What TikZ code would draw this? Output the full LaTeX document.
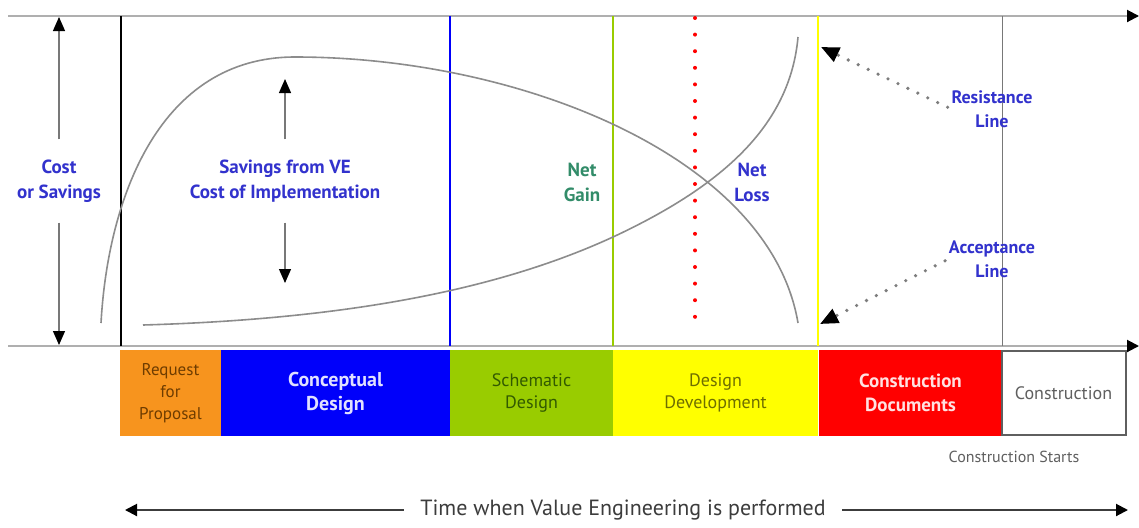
\documentclass[tikz,border=0pt]{standalone}
\usepackage{fontspec}
\setmainfont{PT Sans}
\usetikzlibrary{arrows.meta}
\begin{document}
\begin{tikzpicture}[x=0.5pt,y=0.5pt,
  axisline/.style={draw=axisGray,line width=1pt,-{Triangle[length=6pt,width=6pt,color=black]}},
  stageline/.style={line width=1pt},
  curveline/.style={draw=curveGray,line width=0.8pt},
  headarrow/.style={draw=arrowGray,line width=0.6pt,-{Triangle[length=7pt,width=6pt,color=black]}},
  dotlink/.style={draw=dotGray,line width=1.8pt,line cap=round,dash pattern=on 0pt off 5.5pt,shorten <=2pt,-{Triangle[length=9pt,width=7.5pt,color=black]}},
  bluelabel/.style={text=labelBlue,font=\fontsize{9.5}{12.5}\selectfont\bfseries,align=center,inner sep=0pt},
  phase/.style={inner sep=0pt,outer sep=0pt,minimum height=43pt,align=center,font=\fontsize{9}{11}\selectfont}]
\definecolor{axisGray}{RGB}{175,175,175}
\definecolor{curveGray}{RGB}{140,140,140}
\definecolor{arrowGray}{RGB}{120,120,120}
\definecolor{dotGray}{RGB}{125,125,125}
\definecolor{labelBlue}{RGB}{50,50,205}
\definecolor{gainTeal}{RGB}{50,140,105}
\definecolor{rfpOrange}{RGB}{247,148,30}
\definecolor{rfpText}{RGB}{110,60,0}
\definecolor{conceptBlue}{RGB}{0,0,250}
\definecolor{conceptText}{RGB}{225,225,255}
\definecolor{schemGreen}{RGB}{153,204,0}
\definecolor{schemText}{RGB}{50,90,0}
\definecolor{devYellow}{RGB}{255,255,0}
\definecolor{devText}{RGB}{110,110,0}
\definecolor{docRed}{RGB}{255,0,0}
\definecolor{docText}{RGB}{255,225,225}
\definecolor{buildGray}{RGB}{95,95,95}
\definecolor{timeGray}{RGB}{60,60,60}
\path[use as bounding box,fill=white] (0,0) rectangle (1139,527);

% axes
\coordinate (topL) at (8,511);
\coordinate (topR) at (1139,511);
\coordinate (botL) at (8,181);
\coordinate (botR) at (1139,181);
\path[axisline] (topL) -- (topR);
\path[axisline] (botL) -- (botR);

% stage boundaries
\path[draw=black,stageline] (121,511) -- (121,181);
\path[draw=conceptBlue,stageline] (450,511) -- (450,181);
\path[draw=schemGreen,stageline] (613,511) -- (613,181);
\path[draw=devYellow,stageline] (818,511) -- (818,181);
\path[draw=arrowGray,line width=0.5pt] (1002,511) -- (1002,181);
\path[draw=docRed,line width=2pt,line cap=round,dash pattern=on 0pt off 8.3pt] (695,509) -- (695,194);

% savings and cost curves
\path[curveline] (101,204) .. controls (108,330) and (160,470) .. (295,470)
  .. controls (520,470) and (770,370) .. (798,204);
\path[curveline] (143,202) .. controls (350,208) and (500,238) .. (613,290)
  .. controls (720,340) and (790,400) .. (798,490);

% labels
\node[bluelabel,inner ysep=10pt] (costtxt) at (59,346) {Cost\\or Savings};
\coordinate (costTop) at (59,510);
\coordinate (costBot) at (59,182);
\path[headarrow] (costtxt) -- (costTop);
\path[headarrow] (costtxt) -- (costBot);

\node[bluelabel,inner ysep=10pt] (savtxt) at (285,346) {Savings from VE\\Cost of Implementation};
\coordinate (savTop) at (285,448);
\coordinate (savBot) at (285,244);
\path[headarrow] (savtxt) -- (savTop);
\path[headarrow] (savtxt) -- (savBot);

\node[bluelabel,text=gainTeal] (gaintxt) at (582,345) {Net\\Gain};
\node[bluelabel] (losstxt) at (752,345) {Net\\Loss};

\node[bluelabel,font=\fontsize{9}{12}\selectfont\bfseries] (restxt) at (992,418) {Resistance\\Line};
\node[bluelabel,font=\fontsize{9}{12}\selectfont\bfseries] (acctxt) at (992,268) {Acceptance\\Line};
\coordinate (resHead) at (821,480);
\coordinate (accHead) at (820,203);
\path[dotlink] (restxt.west) -- (resHead);
\path[dotlink] (acctxt.west) -- (accHead);

% project phases
\node[phase,fill=rfpOrange,text=rfpText,minimum width=50.5pt,font=\fontsize{8.5}{11}\selectfont] (rfp) at (170.5,134) {Request\\for\\Proposal};
\node[phase,fill=conceptBlue,text=conceptText,minimum width=114.5pt,font=\fontsize{10}{12}\selectfont\bfseries] (concept) at (335.5,134) {Conceptual\\Design};
\node[phase,fill=schemGreen,text=schemText,minimum width=81.5pt] (schem) at (531.5,134) {Schematic\\Design};
\node[phase,fill=devYellow,text=devText,minimum width=102.5pt] (dev) at (715.5,134) {Design\\Development};
\node[phase,fill=docRed,text=docText,minimum width=91.5pt,font=\fontsize{9.5}{12}\selectfont\bfseries] (docs) at (910.5,134) {Construction\\Documents};
\node[phase,draw=buildGray,line width=1pt,text=buildGray,minimum width=62pt,minimum height=42pt] (build) at (1063.5,134) {Construction};

\node[text=buildGray,font=\fontsize{8}{10}\selectfont,inner sep=0pt] (starttxt) at (1014,70) {Construction Starts};

% time span
\node[text=timeGray,font=\fontsize{11}{12}\selectfont,inner xsep=8pt] (timetxt) at (623,17) {Time when Value Engineering is performed};
\coordinate (timeL) at (125,17);
\coordinate (timeR) at (1128,17);
\path[draw=timeGray,line width=1pt,-{Triangle[length=6pt,width=6pt,color=black]}] (timetxt) -- (timeL);
\path[draw=timeGray,line width=1pt,-{Triangle[length=6pt,width=6pt,color=black]}] (timetxt) -- (timeR);
\end{tikzpicture}
\end{document}
